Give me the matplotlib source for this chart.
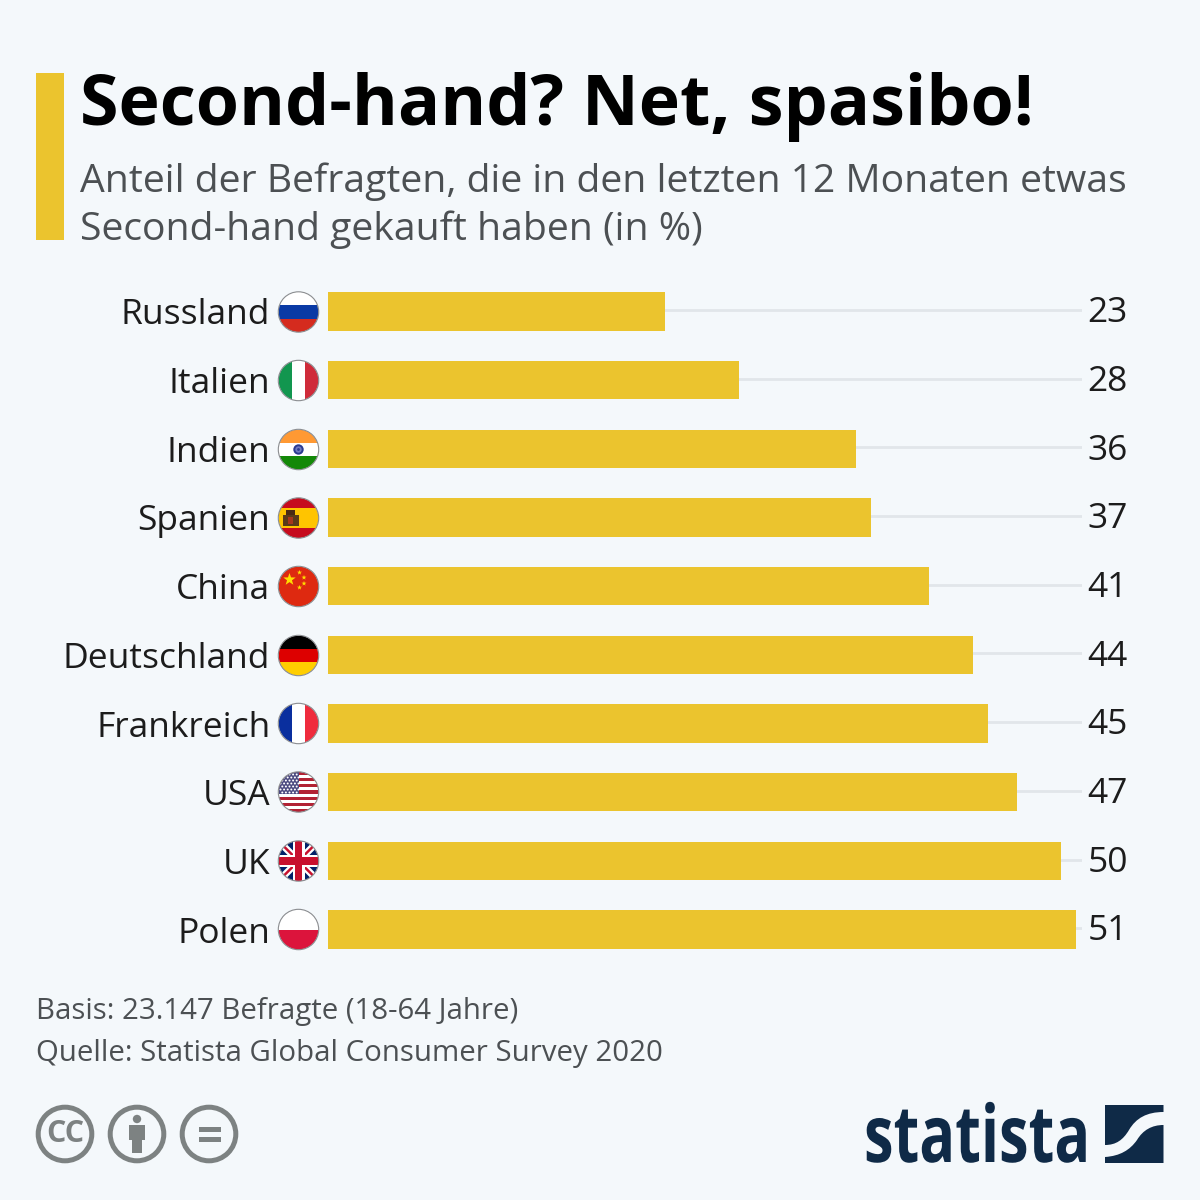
import matplotlib
matplotlib.use('Agg')

import matplotlib.pyplot as plt
import matplotlib.patheffects as pe
from matplotlib.patches import Circle, Rectangle, PathPatch, Polygon
from matplotlib.path import Path
from matplotlib.transforms import Affine2D
import numpy as np

countries = ['Russland', 'Italien', 'Indien', 'Spanien', 'China',
             'Deutschland', 'Frankreich', 'USA', 'UK', 'Polen']
values = [23, 28, 36, 37, 41, 44, 45, 47, 50, 51]

title = 'Second-hand? Net, spasibo!'
subtitle = ['Anteil der Befragten, die in den letzten 12 Monaten etwas',
            'Second-hand gekauft haben (in %)']
notes = ['Basis: 23.147 Befragte (18-64 Jahre)',
         'Quelle: Statista Global Consumer Survey 2020']

BG = '#f4f8fb'
YELLOW = '#ebc42e'
GREY_TXT = '#4c5053'
ICON = '#7d8282'
NAVY = '#0f2a47'

plt.rcParams['font.family'] = ['Open Sans', 'DejaVu Sans']

fig = plt.figure(figsize=(12, 12), dpi=100, facecolor=BG)


# chart axes, placed by pixels from the top left
def px_axes(left, top, right, bottom, **kw):
    return fig.add_axes([left / 1200, 1 - bottom / 1200,
                         (right - left) / 1200, (bottom - top) / 1200], **kw)


ax = px_axes(328, 277, 1082, 964)
ax.set_facecolor('none')
y = np.arange(len(countries))
ax.hlines(y - 0.02, 0, 51.4, color='#e1e6ea', lw=2, zorder=1)
ax.barh(y, values, height=0.56, color=YELLOW, zorder=2)
ax.set_xlim(0, 51.4)
ax.set_ylim(9.5, -0.5)
ax.set_yticks(y)
ax.set_yticklabels(countries, fontsize=25.5, color='#1c1c1c')
ax.tick_params(axis='y', length=0, pad=41.5)
ax.set_xticks([])
for s in ax.spines.values():
    s.set_visible(False)
for i, v in zip(y, values):
    ax.annotate(str(v), (51.4, i), xytext=(4, -1.3), textcoords='offset points',
                va='center', ha='left', fontsize=25.5, color='#1c1c1c')

# overlay in pixel coordinates for header, flags and logos
ov = fig.add_axes([0, 0, 1, 1], facecolor='none')
ov.set_xlim(0, 1200)
ov.set_ylim(1200, 0)
ov.axis('off')

ov.add_patch(Rectangle((36, 73), 28, 167, color=YELLOW, lw=0))
ov.text(79.5, 107, title, fontsize=50.4, fontweight='bold', color='black', va='center')
ov.text(79.5, 182, subtitle[0], fontsize=28.2, color=GREY_TXT, va='center')
ov.text(79.5, 230, subtitle[1], fontsize=28.2, color=GREY_TXT, va='center')
ov.text(36, 1012, notes[0], fontsize=21.2, color=GREY_TXT, va='center')
ov.text(36, 1054, notes[1], fontsize=21.2, color=GREY_TXT, va='center')


def flag_clip(cx, cy, r=20):
    c = Circle((cx, cy), r, transform=ov.transData, fc='none', ec='none')
    ov.add_patch(c)
    return c


def rect(clip, x, y_, w, h, color, z=5):
    p = Rectangle((x, y_), w, h, fc=color, ec='none', zorder=z)
    ov.add_patch(p)
    p.set_clip_path(clip)
    return p


def hstripes(clip, cx, cy, colors, fracs=None, r=20):
    fracs = fracs or [1 / len(colors)] * len(colors)
    top = cy - r
    for col, f in zip(colors, fracs):
        rect(clip, cx - r, top, 2 * r, 2 * r * f + 0.5, col)
        top += 2 * r * f


def vstripes(clip, cx, cy, colors, r=20):
    w = 2 * r / len(colors)
    for i, col in enumerate(colors):
        rect(clip, cx - r + i * w, cy - r, w + 0.5, 2 * r, col)


def star(cx, cy, r, color, clip, rot=0, z=7):
    a = np.deg2rad(np.arange(10) * 36 - 90 + rot)
    rad = np.where(np.arange(10) % 2 == 0, r, r * 0.4)
    p = Polygon(np.c_[cx + rad * np.cos(a), cy + rad * np.sin(a)], fc=color, ec='none', zorder=z)
    ov.add_patch(p)
    p.set_clip_path(clip)


def line(clip, xs, ys, color, lw, z=6):
    l, = ov.plot(xs, ys, color=color, lw=lw, zorder=z, solid_capstyle='butt')
    l.set_clip_path(clip)


def draw_flag(name, cx, cy):
    clip = flag_clip(cx, cy)
    if name == 'Russland':
        hstripes(clip, cx, cy, ['#ffffff', '#0a3aa5', '#d52b1e'])
    elif name == 'Italien':
        vstripes(clip, cx, cy, ['#12964f', '#ffffff', '#cf2b3a'])
    elif name == 'Indien':
        hstripes(clip, cx, cy, ['#ff9933', '#ffffff', '#138808'])
        ov.add_patch(Circle((cx, cy), 5.2, fc='#2a3a90', ec='none', zorder=7))
        ov.add_patch(Circle((cx, cy), 3.2, fc='#6f78c0', ec='none', zorder=8))
        ov.add_patch(Circle((cx, cy), 1.4, fc='#2a3a90', ec='none', zorder=9))
    elif name == 'Spanien':
        hstripes(clip, cx, cy, ['#c60b1e', '#ffc400', '#c60b1e'], [0.25, 0.5, 0.25])
        rect(clip, cx - 16, cy - 3, 16, 11, '#5a3a1a', 7)
        rect(clip, cx - 12.5, cy - 8, 9, 5, '#4a2a14', 7)
        rect(clip, cx - 10.5, cy - 1, 5, 7, '#a5361c', 8)
    elif name == 'China':
        hstripes(clip, cx, cy, ['#de2910'])
        star(cx - 9, cy - 7, 6.5, '#ffde00', clip)
        for dx, dy in [(1, -14), (5.5, -9), (5.5, -3), (1, 1)]:
            star(cx + dx, cy + dy, 2.6, '#ffde00', clip)
    elif name == 'Deutschland':
        hstripes(clip, cx, cy, ['#000000', '#dd0000', '#ffce00'])
    elif name == 'Frankreich':
        vstripes(clip, cx, cy, ['#0a2f9e', '#ffffff', '#ef2b3d'])
    elif name == 'USA':
        n = 13
        hstripes(clip, cx, cy, ['#b22234' if i % 2 == 0 else '#ffffff' for i in range(n)])
        rect(clip, cx - 20, cy - 20, 20, 21.5, '#4b4a80', 7)
        for row in range(7):
            for col in range(5 + row % 2):
                sx = cx - 18 + col * 3.6 + (0 if row % 2 else 1.8)
                sy = cy - 17.5 + row * 3
                dot = Circle((sx, sy), 1.0, fc='white', ec='none', zorder=8)
                ov.add_patch(dot)
                dot.set_clip_path(clip)
    elif name == 'UK':
        hstripes(clip, cx, cy, ['#012169'])
        line(clip, [cx - 20, cx + 20], [cy - 20, cy + 20], 'white', 5)
        line(clip, [cx - 20, cx + 20], [cy + 20, cy - 20], 'white', 5)
        line(clip, [cx - 20, cx + 20], [cy - 20, cy + 20], '#c8102e', 1.8)
        line(clip, [cx - 20, cx + 20], [cy + 20, cy - 20], '#c8102e', 1.8)
        rect(clip, cx - 20, cy - 6, 40, 12, 'white', 7)
        rect(clip, cx - 6, cy - 20, 12, 40, 'white', 7)
        rect(clip, cx - 20, cy - 3.8, 40, 7.6, '#c8102e', 8)
        rect(clip, cx - 3.8, cy - 20, 7.6, 40, '#c8102e', 8)
    elif name == 'Polen':
        hstripes(clip, cx, cy, ['#ffffff', '#dc143c'])
    ov.add_patch(Circle((cx, cy), 20.2, fc='none', ec='#8b8d90', lw=0.8, zorder=10))


flag_y = [312, 380.5, 449.5, 518, 586.5, 655.5, 723.5, 792, 861, 929.5]
for name, fy in zip(countries, flag_y):
    draw_flag(name, 298.5, fy)

# licence icons
for cx in [65, 137, 209]:
    ov.add_patch(Circle((cx, 1134), 26.8, fc='none', ec=ICON, lw=3.6))
ov.text(65, 1134, 'CC', fontsize=22, fontweight='bold', color=ICON, ha='center', va='center')
ov.add_patch(Circle((137, 1119), 4.2, fc=ICON, ec='none'))
ov.add_patch(Rectangle((129, 1125), 16, 15, fc=ICON, ec='none'))
ov.add_patch(Rectangle((132, 1139), 10, 14, fc=ICON, ec='none'))
ov.add_patch(Rectangle((199, 1127), 22, 5.2, fc=ICON, ec='none'))
ov.add_patch(Rectangle((199, 1137), 22, 5.2, fc=ICON, ec='none'))


# the logo lettering is narrower than any installed face
class SqueezeX(pe.AbstractPathEffect):
    def __init__(self, sx, x0):
        super().__init__()
        self.sx = sx
        self.x0 = x0

    def draw_path(self, renderer, gc, tpath, affine, rgbFace=None):
        squeeze = Affine2D().translate(-self.x0, 0).scale(self.sx, 1).translate(self.x0, 0)
        renderer.draw_path(gc, tpath, affine + squeeze, rgbFace)


ov.text(864, 1162, 'statista', fontsize=57, fontweight='bold', color=NAVY, va='baseline',
        path_effects=[SqueezeX(0.75, 864)])

C = Path.CURVE4
top_v = [(1105, 1105), (1163.5, 1105), (1163.5, 1112),
         (1147, 1112), (1136, 1118), (1129, 1130), (1123, 1140), (1116, 1145), (1105, 1145),
         (1105, 1105)]
top_c = [Path.MOVETO, Path.LINETO, Path.LINETO, C, C, C, C, C, C, Path.CLOSEPOLY]
ov.add_patch(PathPatch(Path(top_v, top_c), fc=NAVY, ec='none'))
bot_v = [(1163.5, 1125), (1163.5, 1163), (1105, 1163), (1105, 1157),
         (1120, 1156), (1130, 1150), (1137, 1140), (1143, 1130), (1152, 1125), (1163.5, 1125),
         (1163.5, 1125)]
bot_c = [Path.MOVETO, Path.LINETO, Path.LINETO, Path.LINETO, C, C, C, C, C, C, Path.CLOSEPOLY]
ov.add_patch(PathPatch(Path(bot_v, bot_c), fc=NAVY, ec='none'))

fig.savefig('out.png', dpi=100, facecolor=BG)
